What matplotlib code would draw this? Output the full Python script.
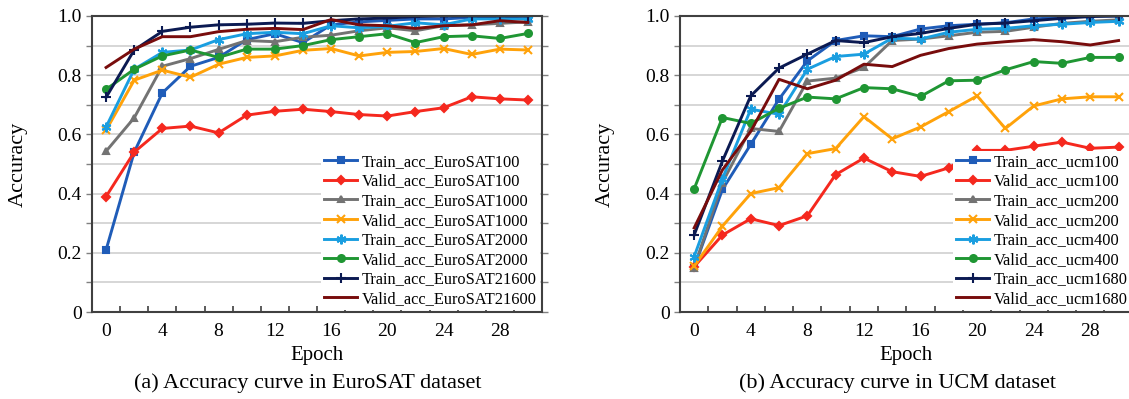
import numpy as np
import matplotlib.pyplot as plt
from matplotlib.ticker import FixedLocator

plt.rcParams['font.family'] = ['Liberation Serif', 'DejaVu Serif']

# Epochs (one point every 2 epochs)
epochs = list(range(0, 32, 2))

# EuroSAT curves
train_euro100 = [0.21, 0.54, 0.74, 0.83, 0.86, 0.92, 0.94, 0.91, 0.97, 0.98, 0.985, 0.99, 0.99, 0.995, 0.995, 1.0]
valid_euro100 = [0.39, 0.54, 0.62, 0.628, 0.605, 0.665, 0.678, 0.685, 0.677, 0.667, 0.662, 0.677, 0.69, 0.727, 0.72, 0.716]
train_euro1000 = [0.543, 0.656, 0.83, 0.856, 0.887, 0.917, 0.913, 0.928, 0.935, 0.95, 0.96, 0.95, 0.967, 0.97, 0.975, 0.98]
valid_euro1000 = [0.614, 0.783, 0.817, 0.793, 0.837, 0.86, 0.865, 0.884, 0.89, 0.865, 0.877, 0.88, 0.89, 0.87, 0.888, 0.885]
train_euro2000 = [0.625, 0.82, 0.877, 0.885, 0.92, 0.94, 0.945, 0.94, 0.967, 0.96, 0.965, 0.977, 0.97, 0.99, 0.99, 0.99]
valid_euro2000 = [0.752, 0.82, 0.865, 0.885, 0.86, 0.888, 0.888, 0.9, 0.92, 0.93, 0.94, 0.91, 0.93, 0.933, 0.924, 0.941]
train_euro21600 = [0.725, 0.885, 0.948, 0.962, 0.97, 0.972, 0.976, 0.975, 0.984, 0.99, 0.993, 0.998, 1.0, 1.0, 1.0, 1.0]
valid_euro21600 = [0.826, 0.888, 0.93, 0.93, 0.947, 0.955, 0.958, 0.954, 0.988, 0.97, 0.967, 0.958, 0.967, 0.97, 0.984, 0.978]

# UCM curves
train_ucm100 = [0.15, 0.414, 0.566, 0.719, 0.848, 0.917, 0.933, 0.93, 0.956, 0.967, 0.972, 0.977, 0.99, 0.995, 1.0, 1.0]
valid_ucm100 = [0.153, 0.26, 0.315, 0.292, 0.325, 0.464, 0.52, 0.474, 0.458, 0.487, 0.546, 0.546, 0.56, 0.574, 0.553, 0.557]
train_ucm200 = [0.15, 0.437, 0.62, 0.61, 0.78, 0.79, 0.826, 0.917, 0.922, 0.933, 0.945, 0.948, 0.962, 0.975, 0.982, 0.987]
valid_ucm200 = [0.155, 0.29, 0.40, 0.42, 0.535, 0.552, 0.66, 0.585, 0.625, 0.677, 0.73, 0.62, 0.696, 0.72, 0.727, 0.727]
train_ucm400 = [0.187, 0.45, 0.685, 0.668, 0.82, 0.863, 0.871, 0.925, 0.922, 0.945, 0.955, 0.958, 0.967, 0.972, 0.978, 0.982]
valid_ucm400 = [0.416, 0.657, 0.637, 0.688, 0.726, 0.72, 0.758, 0.754, 0.728, 0.781, 0.783, 0.818, 0.846, 0.84, 0.86, 0.86]
train_ucm1680 = [0.26, 0.51, 0.73, 0.824, 0.871, 0.917, 0.91, 0.93, 0.941, 0.958, 0.972, 0.976, 0.984, 0.992, 0.998, 1.0]
valid_ucm1680 = [0.284, 0.48, 0.61, 0.786, 0.754, 0.783, 0.837, 0.829, 0.867, 0.89, 0.905, 0.913, 0.92, 0.913, 0.902, 0.917]

euro_labels = ['Train_acc_EuroSAT100', 'Valid_acc_EuroSAT100', 'Train_acc_EuroSAT1000',
               'Valid_acc_EuroSAT1000', 'Train_acc_EuroSAT2000', 'Valid_acc_EuroSAT2000',
               'Train_acc_EuroSAT21600', 'Valid_acc_EuroSAT21600']
ucm_labels = ['Train_acc_ucm100', 'Valid_acc_ucm100', 'Train_acc_ucm200', 'Valid_acc_ucm200',
              'Train_acc_ucm400', 'Valid_acc_ucm400', 'Train_acc_ucm1680', 'Valid_acc_ucm1680']

colors = ['#1f5cb8', '#f5281e', '#737373', '#ffa20a', '#1a9ee0', '#1f9633', '#0b1a52', '#780c0c']
markers = ['s', 'D', '^', 'x', (6, 2, 0), 'o', '+', None]
msizes = [5, 4, 5, 6, 7, 5, 7, 0]

fig = plt.figure(figsize=(11.29, 3.99), dpi=100)
ax1 = fig.add_axes([0.0815, 0.218, 0.3986, 0.742])
ax2 = fig.add_axes([0.6023, 0.218, 0.4010, 0.742])


def draw(ax, series, labels, caption):
    for ys, lab, c, m, ms in zip(series, labels, colors, markers, msizes):
        ax.plot(epochs, ys, color=c, lw=2.1, marker=m, markersize=ms,
                markeredgewidth=1.5, label=lab)
    ax.set_xlim(-1, 31)
    ax.set_ylim(0, 1.0)
    ax.set_xticks(range(0, 30, 4))
    ax.xaxis.set_minor_locator(FixedLocator(np.arange(1, 31, 2)))
    ax.tick_params(axis='x', which='major', length=0, labelsize=14, pad=8)
    ax.tick_params(axis='x', which='minor', direction='in', length=4, width=1.2, color='#404040')
    ax.set_yticks(np.arange(0, 1.01, 0.2))
    ax.set_yticklabels(['0', '0.2', '0.4', '0.6', '0.8', '1.0'])
    ax.yaxis.set_minor_locator(FixedLocator(np.arange(0.1, 1.0, 0.2)))
    ax.tick_params(axis='y', which='both', direction='out', length=4, width=1,
                   color='#808080', labelsize=14, right=True)
    ax.grid(True, axis='y', which='both', color='#d0d0d0', lw=1.2)
    ax.set_axisbelow(True)
    for s in ax.spines.values():
        s.set_color('#404040')
        s.set_linewidth(1.5)
    ax.set_xlabel('Epoch', fontsize=15)
    ax.xaxis.set_label_coords(0.5, -0.115)
    ax.set_ylabel('Accuracy', fontsize=16)
    ax.yaxis.set_label_coords(-0.143, 0.5)
    ax.legend(loc='lower right', bbox_to_anchor=(1.0, 0.0), fontsize=11.8,
              frameon=True, facecolor='white', edgecolor='none', framealpha=1,
              fancybox=False, labelspacing=0.22, handlelength=2.0,
              handletextpad=0.3, borderpad=0.2, borderaxespad=0.1)
    ax.text(0.48, -0.24, caption, transform=ax.transAxes, ha='center', va='center', fontsize=16)


draw(ax1, [train_euro100, valid_euro100, train_euro1000, valid_euro1000,
           train_euro2000, valid_euro2000, train_euro21600, valid_euro21600],
     euro_labels, '(a) Accuracy curve in EuroSAT dataset')
draw(ax2, [train_ucm100, valid_ucm100, train_ucm200, valid_ucm200,
           train_ucm400, valid_ucm400, train_ucm1680, valid_ucm1680],
     ucm_labels, '(b) Accuracy curve in UCM dataset')

fig.savefig('out.png', dpi=100)
